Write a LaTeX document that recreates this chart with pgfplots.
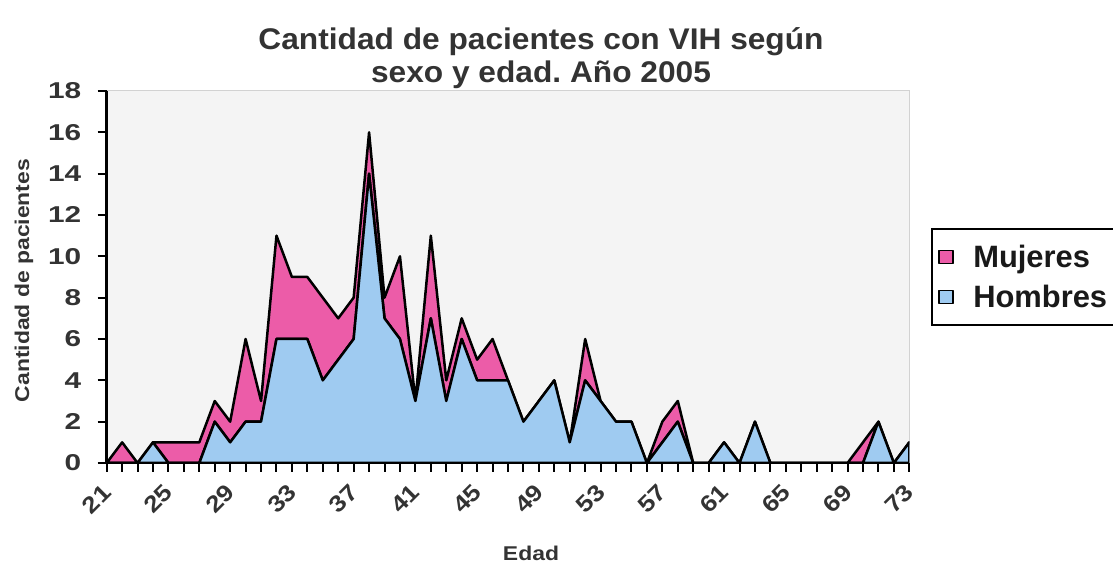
\documentclass[border=0pt]{standalone}
\usepackage{fontspec}
\setmainfont{Liberation Sans}
\newfontfamily\tickf[FakeStretch=1.3]{Liberation Sans}
\newfontfamily\xtickf[FakeStretch=1.15]{Liberation Sans}
\newfontfamily\titlef[FakeStretch=1.06]{Liberation Sans}
\newfontfamily\labf[FakeStretch=1.15]{Liberation Sans}
\usepackage{pgfplots}
\usepackage{pgfplotstable}
\pgfplotsset{compat=1.18}
\definecolor{pinkf}{HTML}{EC5CA8}
\definecolor{bluef}{HTML}{9FCBF1}
\definecolor{bgc}{HTML}{F4F4F4}
\definecolor{txt}{HTML}{333333}
\frenchspacing

\pgfplotstableread{
age H M
21 0 0
22 0 1
23 0 0
24 1 0
25 0 1
26 0 1
27 0 1
28 2 1
29 1 1
30 2 4
31 2 1
32 6 5
33 6 3
34 6 3
35 4 4
36 5 2
37 6 2
38 14 2
39 7 1
40 6 4
41 3 0
42 7 4
43 3 1
44 6 1
45 4 1
46 4 2
47 4 0
48 2 0
49 3 0
50 4 0
51 1 0
52 4 2
53 3 0
54 2 0
55 2 0
56 0 0
57 1 1
58 2 1
59 0 0
60 0 0
61 1 0
62 0 0
63 2 0
64 0 0
65 0 0
66 0 0
67 0 0
68 0 0
69 0 0
70 0 1
71 2 0
72 0 0
73 1 0
}\datatab

\begin{document}
\begin{tikzpicture}
\useasboundingbox (0,0) rectangle (1113bp,576bp);
\begin{axis}[
  at={(106.7bp,113bp)}, anchor=south west,
  scale only axis, width=802.6bp, height=372bp,
  xmin=21, xmax=73, ymin=0, ymax=18,
  stack plots=y,
  axis x line*=bottom, axis y line*=left,
  axis line style={line width=2.5bp, black, -},
  axis background/.style={fill=bgc, draw=gray!35, line width=1bp},
  xtick={21,25,...,73}, minor xtick={21,...,73},
  ytick={0,2,...,18},
  tick align=outside,
  major tick length=9bp, minor tick length=9bp,
  tick style={line width=2bp, black},
  /pgf/number format/assume math mode=true,
  yticklabel style={font=\tickf\bfseries\fontsize{23}{23}\selectfont, text=txt, xshift=-13bp},
  xticklabel style={font=\xtickf\bfseries\fontsize{23}{23}\selectfont, text=txt, rotate=45, anchor=east, xshift=-8bp, yshift=-12bp},
  reverse legend,
  legend style={at={(axis description cs:1.0274,0.6317)}, anchor=north west,
    draw=black, line width=2bp, fill=white,
    font=\bfseries\fontsize{31}{31}\selectfont, text=black!90,
    inner xsep=6bp, inner ysep=10bp, row sep=4bp,
    nodes={inner sep=2bp, text height=26bp, text depth=6bp},
    legend cell align=left},
  legend image code/.code={\draw[#1, draw=black, line width=1.5bp] (2bp,-6.5bp) rectangle (16bp,6.5bp); \path (33bp,0bp);},
]
\addplot[fill=bluef, draw=black, line width=2.5bp, line join=round] table[x=age,y=H]{\datatab} \closedcycle;
\addplot[fill=pinkf, draw=black, line width=2.5bp, line join=round] table[x=age,y=M]{\datatab} \closedcycle;
\legend{Hombres, Mujeres}
\end{axis}
\node[anchor=base, text=txt, font=\titlef\bfseries\fontsize{30}{30}\selectfont] at (541bp,526bp) {Cantidad de pacientes con VIH según};
\node[anchor=base, text=txt, font=\titlef\bfseries\fontsize{30}{30}\selectfont] at (541bp,493bp) {sexo y edad. Año 2005};
\node[rotate=90, text=txt, font=\labf\bfseries\fontsize{20}{20}\selectfont] at (24bp,295.5bp) {Cantidad de pacientes};
\node[text=txt, font=\labf\bfseries\fontsize{20}{20}\selectfont] at (531bp,23bp) {Edad};
\end{tikzpicture}
\end{document}
